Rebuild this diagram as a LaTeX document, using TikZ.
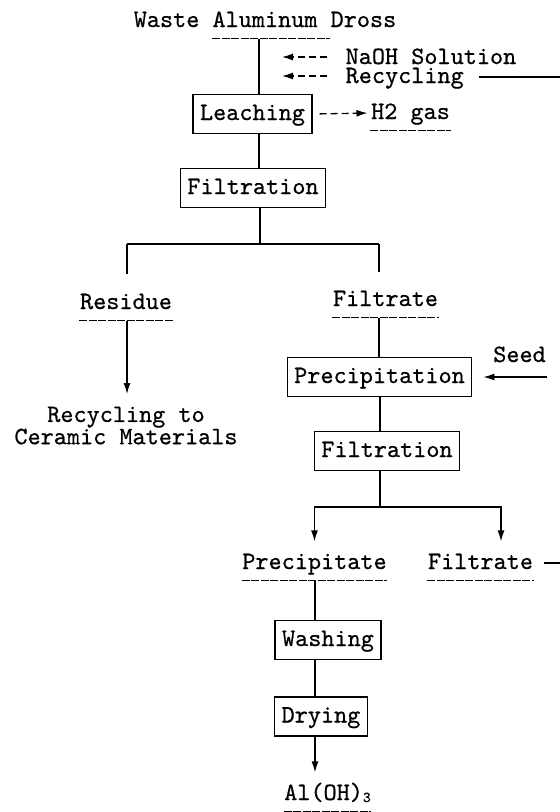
\documentclass[tikz,border=0pt]{standalone}
\usepackage{fontspec}
\newfontfamily\chartfont{lmmono10-regular.otf}[FakeBold=0.6]
\usetikzlibrary{arrows.meta,calc}
\begin{document}
\begin{tikzpicture}[x=1pt,y=-1pt,>={Latex[length=11pt,width=7pt]},line width=1.3pt,
		every node/.style={font=\fontsize{25}{20}\selectfont\chartfont},
		procbox/.style={draw,inner xsep=7pt,inner ysep=0pt,minimum height=39pt,text height=17pt,text depth=5pt},
		lbl/.style={inner xsep=0pt,inner ysep=6pt,text height=17pt,text depth=5pt},
		side/.style={inner sep=0pt,anchor=base west},
		uline/.style={dash pattern=on 8pt off 1.5pt},
		feed/.style={dash pattern=on 7pt off 4pt}]
		\useasboundingbox (0,0) rectangle (560,812);
		\node[lbl] (dross) at (265,21) {Waste Aluminum Dross};
		\node[side] (naoh) at (345,64) {NaOH Solution};
		\node[side] (recyc) at (345,83) {Recycling};
		\node[procbox] (leach) at (252.5,114) {Leaching};
		\node[lbl] (htwo) at (410.5,113) {H2 gas};
		\node[procbox] (filtA) at (253,188) {Filtration};
		\node[lbl] (resid) at (126,303) {Residue};
		\node[align=center,inner xsep=0pt,inner ysep=12pt,anchor=north] (ceram) at (126,394) {Recycling to\\Ceramic Materials};
		\node[lbl] (filtrA) at (385.5,300) {Filtrate};
		\node[procbox] (precip) at (379.5,377) {Precipitation};
		\node[lbl] (seed) at (519.5,356) {Seed};
		\node[procbox] (filtB) at (387,451) {Filtration};
		\node[lbl] (prcpt) at (314.5,563) {Precipitate};
		\node[lbl] (filtrB) at (480.5,563) {Filtrate};
		\node[procbox] (wash) at (328,640) {Washing};
		\node[procbox] (dry) at (321,716.5) {Drying};
		\node[lbl] (alum) at (327.5,794) {Al(OH)\raisebox{-2pt}{\fontsize{15}{15}\selectfont 3}};
		\coordinate (trunkA) at (259,0);
		\coordinate (naohin) at (282,57);
		\coordinate (recin) at (282,76);
		\coordinate (recoutA) at (560,77);
		\coordinate (split) at (260,244);
		\coordinate (leftb) at (127,244);
		\coordinate (rightb) at (379,244);
		\coordinate (seedsrc) at (547,377);
		\coordinate (splitB) at (380,507);
		\coordinate (rightB) at (501,507);
		\coordinate (recoutB) at (560,563);
		\coordinate (trunkB) at (315,0);
		\draw[uline] ($(dross.south west)+(79,0)$) -- ($(dross.south west)+(197,0)$);
		\draw (dross.south -| trunkA) -- (leach.north -| trunkA);
		\draw[feed,->,shorten <=18pt] (naoh.west |- naohin) -- (naohin);
		\draw[feed,->,shorten <=18pt] (recyc.west |- recin) -- (recin);
		\draw[shorten <=15pt] (recyc.east |- recoutA) -- (recoutA);
		\draw[feed,->,shorten <=7pt,shorten >=3pt] (leach.east) -- (htwo.west);
		\draw[uline] (htwo.south west) -- (htwo.south east);
		\draw (leach.south -| trunkA) -- (filtA.north -| trunkA);
		\draw (filtA.south -| split) -- (split);
		\draw (leftb) -- (rightb);
		\draw (leftb) -- ($(resid.north)+(1,-11)$);
		\draw (rightb) -- ($(rightb |- filtrA.north)+(0,-10)$);
		\draw[uline] (resid.south west) -- (resid.south east);
		\draw[->] (resid.south -| leftb) -- (ceram.north -| leftb);
		\draw[uline] (filtrA.south west) -- (filtrA.south east);
		\draw (filtrA.south -| rightb) -- (precip.north -| rightb);
		\draw[->,shorten >=11pt] (seedsrc) -- (precip.east |- seedsrc);
		\draw (precip.south -| splitB) -- (filtB.north -| splitB);
		\draw (filtB.south -| splitB) -- (splitB);
		\draw[->] (splitB) -| ($(prcpt.north)+(0,-4)$);
		\draw[->] (splitB) -- (rightB) -- ($(rightB |- filtrB.north)+(0,-4)$);
		\draw[uline] (prcpt.south west) -- (prcpt.south east);
		\draw[uline] (filtrB.south west) -- (filtrB.south east);
		\draw[shorten <=10pt] (filtrB.east) -- (recoutB);
		\draw (prcpt.south -| trunkB) -- (wash.north -| trunkB);
		\draw (wash.south -| trunkB) -- (dry.north -| trunkB);
		\draw[->] (dry.south -| trunkB) -- ($(alum.north -| trunkB)+(0,-4)$);
		\draw[uline] (alum.south west) -- (alum.south east);
	\end{tikzpicture}
\end{document}
